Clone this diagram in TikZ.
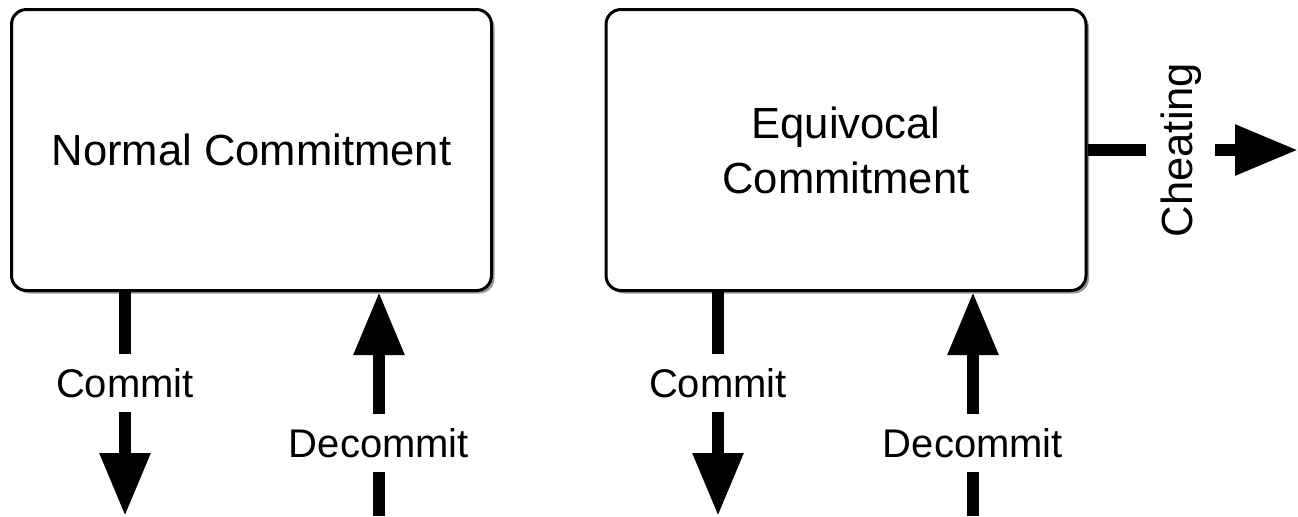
\documentclass[tikz,border=0pt]{standalone}
\usepackage{fontspec}
\setmainfont{Liberation Sans}
\usetikzlibrary{arrows.meta,shadows}

\tikzset{
  statebox/.style={draw, line width=1.5pt, rounded corners=7.5pt, fill=white,
    minimum width=240pt, minimum height=140.5pt, align=center,
    font=\fontsize{21.8}{27.5}\selectfont,
    drop shadow={shadow xshift=1.5pt, shadow yshift=-1.5pt, opacity=0.4, fill=black}},
  flow/.style={line width=6pt, -{Triangle[width=24pt,length=31.5pt]}},
  flowlabel/.style={fill=white, inner sep=7pt, font=\fontsize{20}{24}\selectfont}
}

\begin{document}
\begin{tikzpicture}[x=0.5pt,y=-0.5pt]
  \useasboundingbox (0,0) rectangle (1298,516);

  % the two boxes
  \node[statebox] (normal) at (251.5,150) {Normal Commitment};
  \node[statebox] (equiv) at (846,150) {Equivocal\\Commitment};

  % free ends of the flows
  \coordinate (ncommit) at (125,516);
  \coordinate (ndecommit) at (379,516);
  \coordinate (ecommit) at (718,516);
  \coordinate (edecommit) at (973,516);
  \coordinate (cheatend) at (1298,150);

  \draw[flow] (normal.south -| ncommit) -- node[flowlabel,pos=0.406] (ncommitlbl) {Commit} (ncommit);
  \draw[flow] (ndecommit) -- node[flowlabel,pos=0.326] (ndecommitlbl) {Decommit} (normal.south -| ndecommit);
  \draw[flow] (equiv.south -| ecommit) -- node[flowlabel,pos=0.406] (ecommitlbl) {Commit} (ecommit);
  \draw[flow] (edecommit) -- node[flowlabel,pos=0.326] (edecommitlbl) {Decommit} (equiv.south -| edecommit);
  \draw[flow] (equiv.east) -- node[flowlabel,rotate=90,pos=0.443,font=\fontsize{21.8}{26}\selectfont] (cheatlbl) {Cheating} (cheatend);
\end{tikzpicture}
\end{document}
